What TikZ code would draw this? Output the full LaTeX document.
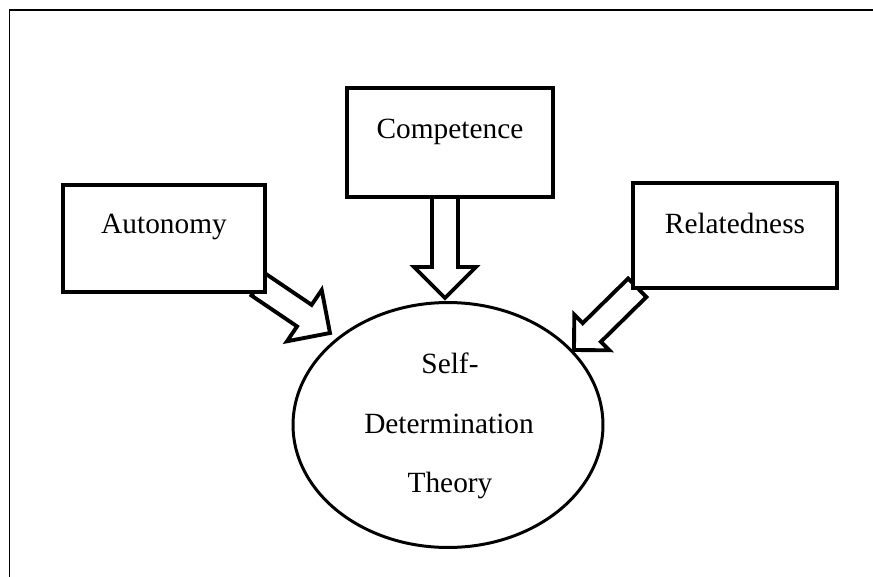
\documentclass[tikz,border=0pt]{standalone}
\usepackage{fontspec}
\setmainfont{Liberation Serif}
\usetikzlibrary{calc,backgrounds,shapes.geometric}

\tikzset{
  box/.style={draw, line width=2pt, fill=white, inner sep=0pt},
  word/.style={font=\fontsize{16.7}{20}\selectfont, anchor=base, inner sep=0pt},
  fatarrow/.style={draw, line width=2.2pt, fill=white, line join=miter},
}

% hollow block arrow from #2 to #3, #1 = size of the head
\newcommand{\blockarrow}[3][0.62cm]{%
  \coordinate (hb) at ($(#3)!#1!(#2)$);
  \draw[fatarrow] ($(#2)!0.26cm!90:(#3)$) -- ($(hb)!0.26cm!90:(#3)$)
    -- ($(hb)!#1!90:(#3)$) -- (#3) -- ($(hb)!#1!-90:(#3)$)
    -- ($(hb)!0.26cm!-90:(#3)$) -- ($(#2)!0.26cm!-90:(#3)$) -- cycle;}

\begin{document}
\begin{tikzpicture}[x=0.02cm, y=-0.02cm]
	\useasboundingbox (0,0) rectangle (873,576);
	\draw[line width=1.1pt] (9.5,10) rectangle (900,610);
	
	\node[box, minimum width=4.04cm, minimum height=2.14cm] (auto) at (164,238.5) {};
	\node[box, minimum width=4.12cm, minimum height=2.18cm] (comp) at (450,142.5) {};
	\node[box, minimum width=4.08cm, minimum height=2.1cm] (rel) at (735,235.5) {};
	\node[draw, ellipse, line width=1.7pt, minimum width=6.2cm, minimum height=4.9cm] (sdt) at (448,425) {};
	
	\node[word] (autotxt) at (164,233) {Autonomy};
	\node[word] (comptxt) at (450,138) {Competence};
	\node[word] (reltxt) at (735,233) {Relatedness};
	\node[word] (sdt1) at (450,373) {Self-};
	\node[word] (sdt2) at (449,433) {Determination};
	\node[word] (sdt3) at (450,492) {Theory};
	
	% arrows behind the boxes
	\begin{pgfonlayer}{background}
		\coordinate (autostart) at ($(auto.south east)+(-8,-9)$);
		\coordinate (autotip) at (330,333);
		\coordinate (compstart) at ($(comp.south)+(-5,-6)$);
		\coordinate (comptip) at (445,298);
		\coordinate (relstart) at ($(rel.south west)+(6,-2)$);
		\coordinate (reltip) at (574,350);
		\blockarrow{autostart}{autotip}
		\blockarrow{compstart}{comptip}
		\blockarrow[0.5cm]{relstart}{reltip}
	\end{pgfonlayer}
\end{tikzpicture}
\end{document}
